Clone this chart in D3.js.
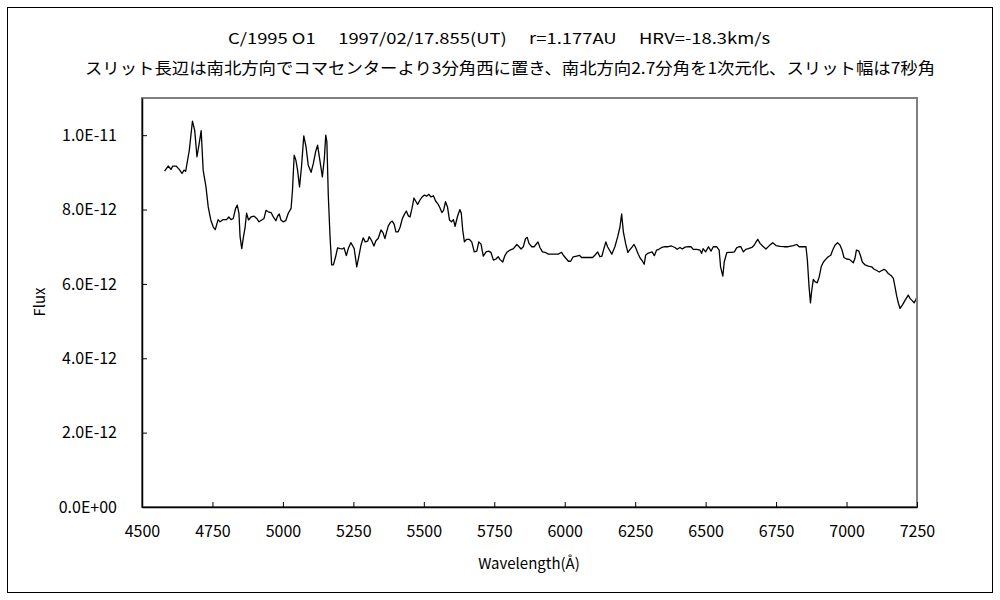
<!DOCTYPE html>
<html>
<head>
<meta charset="utf-8">
<script src="https://cdn.jsdelivr.net/npm/d3@7"></script>
<style>
  body { margin: 0; background: #fff; }
  text { font-family: "Noto Sans CJK JP", "DejaVu Sans", sans-serif; fill: #000; }
</style>
</head>
<body>
<div id="chart"></div>
<script>
// Spectrum data: wavelength (Å) and flux (units of 1e-12)
const wavelength = [
  4580, 4593, 4603, 4609, 4621, 4632, 4642, 4649, 4655, 4668, 4679, 4687, 4695, 4703, 4710, 4717,
  4727, 4735, 4744, 4753, 4760, 4770, 4777, 4788, 4800, 4808, 4816, 4824, 4832, 4838, 4844, 4848,
  4854, 4859, 4866, 4871, 4878, 4887, 4898, 4907, 4915, 4925, 4933, 4940, 4948, 4958, 4966, 4975,
  4981, 4987, 4993, 5001, 5010, 5019, 5029, 5034, 5040, 5046, 5052, 5059, 5066, 5074, 5082, 5090,
  5100, 5108, 5116, 5123, 5132, 5140, 5147, 5152, 5156, 5161, 5167, 5173, 5179, 5187, 5194, 5203,
  5211, 5217, 5225, 5232, 5241, 5248, 5253, 5262, 5268, 5277, 5285, 5292, 5301, 5306, 5315, 5323,
  5330, 5338, 5348, 5355, 5362, 5368, 5374, 5381, 5388, 5395, 5401, 5409, 5416, 5424, 5431, 5438,
  5445, 5451, 5458, 5465, 5471, 5478, 5486, 5494, 5502, 5510, 5518, 5525, 5534, 5542, 5551, 5557,
  5564, 5570, 5577, 5584, 5591, 5598, 5605, 5611, 5619, 5628, 5633, 5638, 5644, 5652, 5661, 5670,
  5679, 5688, 5695, 5703, 5711, 5721, 5730, 5738, 5747, 5756, 5764, 5770, 5780, 5788, 5796, 5806,
  5818, 5830, 5838, 5845, 5853, 5861, 5867, 5873, 5883, 5892, 5898, 5905, 5912, 5921, 5930, 5942,
  5960, 5977, 5989, 5995, 6004, 6013, 6021, 6030, 6042, 6052, 6060, 6072, 6087, 6099, 6107, 6117,
  6125, 6132, 6139, 6146, 6152, 6158, 6167, 6178, 6188, 6196, 6202, 6208, 6216, 6224, 6232, 6240,
  6246, 6253, 6261, 6268, 6276, 6282, 6287, 6294, 6302, 6310, 6318, 6326, 6334, 6344, 6356, 6367,
  6379, 6391, 6399, 6409, 6417, 6427, 6438, 6448, 6456, 6468, 6480, 6486, 6491, 6500, 6510, 6519,
  6527, 6539, 6548, 6553, 6561, 6566, 6575, 6583, 6592, 6602, 6610, 6618, 6625, 6634, 6642, 6652,
  6664, 6672, 6679, 6685, 6693, 6702, 6714, 6726, 6738, 6750, 6764, 6778, 6793, 6811, 6823, 6832,
  6844, 6856, 6861, 6867, 6872, 6876, 6882, 6888, 6896, 6903, 6910, 6918, 6926, 6935, 6944, 6951,
  6959, 6968, 6977, 6984, 6991, 7000, 7010, 7016, 7024, 7030, 7035, 7043, 7049, 7056, 7066, 7077,
  7089, 7097, 7107, 7116, 7125, 7133, 7140, 7148, 7160, 7166, 7172, 7178, 7184, 7190, 7198, 7207,
  7219, 7225, 7233, 7240, 7246, 7250
];
const flux = [
  9.03, 9.17, 9.08, 9.17, 9.17, 9.08, 8.97, 9.06, 9.03, 9.60, 10.38, 10.13, 9.42, 9.78, 10.12, 9.06,
  8.61, 8.07, 7.72, 7.53, 7.46, 7.73, 7.67, 7.73, 7.73, 7.80, 7.73, 7.76, 8.03, 8.12, 7.90, 7.27,
  6.95, 7.22, 7.53, 7.90, 7.72, 7.80, 7.82, 7.76, 7.67, 7.72, 7.76, 7.98, 7.94, 7.92, 7.80, 7.70,
  7.82, 7.88, 7.72, 7.67, 7.70, 7.90, 8.03, 8.52, 9.46, 9.33, 9.06, 8.61, 9.15, 9.98, 9.69, 9.19,
  9.00, 9.24, 9.55, 9.73, 9.28, 8.88, 9.37, 10.00, 9.82, 8.39, 7.31, 6.51, 6.51, 6.73, 6.97, 6.95,
  6.94, 6.97, 6.76, 6.95, 7.11, 7.02, 6.95, 6.46, 6.68, 7.04, 7.24, 7.13, 7.15, 7.27, 7.16, 7.02,
  7.16, 7.22, 7.45, 7.38, 7.22, 7.40, 7.56, 7.65, 7.69, 7.60, 7.40, 7.40, 7.53, 7.76, 7.87, 7.96,
  7.83, 7.80, 8.03, 8.31, 8.23, 8.14, 8.25, 8.34, 8.39, 8.36, 8.41, 8.34, 8.37, 8.23, 8.14, 8.05,
  7.92, 7.98, 8.21, 8.07, 7.72, 7.67, 7.73, 7.55, 7.80, 8.00, 7.90, 7.45, 7.13, 7.20, 7.20, 7.13,
  6.86, 6.88, 7.13, 7.07, 6.75, 6.86, 6.88, 6.85, 6.64, 6.67, 6.73, 6.66, 6.59, 6.77, 6.86, 6.91,
  6.95, 7.06, 7.00, 6.94, 7.00, 7.22, 7.25, 7.09, 7.00, 7.00, 7.06, 7.13, 6.98, 6.86, 6.85, 6.80,
  6.80, 6.80, 6.85, 6.77, 6.69, 6.61, 6.61, 6.73, 6.75, 6.77, 6.71, 6.71, 6.71, 6.71, 6.77, 6.86,
  6.73, 6.75, 6.95, 7.13, 7.00, 6.92, 6.80, 7.00, 7.27, 7.53, 7.88, 7.40, 7.09, 6.85, 6.93, 7.00,
  7.06, 6.95, 6.80, 6.69, 6.61, 6.53, 6.77, 6.82, 6.84, 6.86, 6.76, 6.91, 6.93, 6.98, 7.00, 7.00,
  7.02, 6.98, 6.93, 6.98, 6.94, 6.99, 7.00, 7.00, 6.93, 6.93, 6.91, 6.82, 6.95, 6.86, 7.00, 6.88,
  7.00, 7.00, 6.91, 6.46, 6.21, 6.59, 6.84, 6.85, 6.85, 6.86, 6.97, 7.00, 7.00, 6.86, 6.93, 6.95,
  6.98, 7.04, 7.13, 7.20, 7.09, 7.02, 6.94, 7.03, 7.11, 7.03, 7.01, 7.00, 7.00, 7.03, 7.06, 7.00,
  7.00, 7.00, 6.64, 5.92, 5.49, 5.79, 6.12, 6.06, 6.03, 6.19, 6.46, 6.59, 6.66, 6.73, 6.77, 6.91,
  7.04, 7.11, 7.04, 6.91, 6.71, 6.67, 6.66, 6.62, 6.57, 6.69, 6.91, 6.89, 6.77, 6.59, 6.51, 6.48,
  6.46, 6.40, 6.36, 6.32, 6.36, 6.39, 6.36, 6.28, 6.21, 6.15, 5.92, 5.67, 5.48, 5.34, 5.43, 5.55,
  5.70, 5.61, 5.55, 5.49, 5.58, 5.65
];
const xTicks = [4500, 4750, 5000, 5250, 5500, 5750, 6000, 6250, 6500, 6750, 7000, 7250];
const yTicks = [0, 2e-12, 4e-12, 6e-12, 8e-12, 1e-11];
const yTickLabels = ['0.0E+00', '2.0E-12', '4.0E-12', '6.0E-12', '8.0E-12', '1.0E-11'];
const title1 = 'C/1995 O1\u3000 1997/02/17.855(UT)\u3000 r=1.177AU\u3000 HRV=-18.3km/s';
const title2 = 'スリット長辺は南北方向でコマセンターより3分角西に置き、南北方向2.7分角を1次元化、スリット幅は7秒角';

const data = wavelength.map((w, i) => ({ w: w, f: flux[i] * 1e-12 }));

// Layout
let W = 1000, H = 600;
let plot = { left: 142, top: 98, right: 917, bottom: 507 };

let svg = d3.select('#chart').append('svg')
  .attr('width', W)
  .attr('height', H);

// outer chart border
svg.append('rect')
  .attr('x', 7.5).attr('y', 7.5)
  .attr('width', 985).attr('height', 585)
  .attr('fill', '#fff')
  .attr('stroke', '#000')
  .attr('stroke-width', 1);

// Scales
let x = d3.scaleLinear().domain([4500, 7250]).range([plot.left, plot.right]);
let y = d3.scaleLinear().domain([0, 1.1e-11]).range([plot.bottom, plot.top]);

// Titles
svg.append('text')
  .attr('x', 499).attr('y', 44)
  .attr('text-anchor', 'middle')
  .attr('font-size', 15)
  .attr('textLength', 542)
  .attr('lengthAdjust', 'spacingAndGlyphs')
  .text(title1);

svg.append('text')
  .attr('x', 510).attr('y', 74)
  .attr('text-anchor', 'middle')
  .attr('font-size', 16)
  .attr('textLength', 850)
  .attr('lengthAdjust', 'spacingAndGlyphs')
  .text(title2);

// Spectrum line
let line = d3.line()
  .x(d => x(d.w))
  .y(d => y(d.f));

svg.append('path')
  .datum(data)
  .attr('fill', 'none')
  .attr('stroke', '#000')
  .attr('stroke-width', 1.3)
  .attr('stroke-linejoin', 'round')
  .attr('d', line);

// Plot area frame
svg.append('rect')
  .attr('x', plot.left).attr('y', plot.top)
  .attr('width', plot.right - plot.left)
  .attr('height', plot.bottom - plot.top)
  .attr('fill', 'none')
  .attr('stroke', '#808080')
  .attr('stroke-width', 2);

// X axis, ticks inside
let xAxis = svg.append('g')
  .attr('transform', 'translate(0,' + plot.bottom + ')')
  .call(d3.axisBottom(x).tickValues(xTicks).tickFormat(d3.format('d'))
    .tickSizeInner(-5).tickSizeOuter(0).tickPadding(19));
xAxis.select('.domain').attr('stroke', '#000').attr('stroke-width', 1.5);
xAxis.selectAll('.tick line').attr('stroke', '#000');
xAxis.selectAll('text')
  .attr('font-size', 16)
  .attr('font-family', '"Noto Sans CJK JP", sans-serif');

// Y axis, ticks inside
let yAxis = svg.append('g')
  .attr('transform', 'translate(' + plot.left + ',0)')
  .call(d3.axisLeft(y).tickValues(yTicks)
    .tickFormat((d, i) => yTickLabels[i])
    .tickSizeInner(-5).tickSizeOuter(0).tickPadding(25));
yAxis.select('.domain').attr('stroke', '#000').attr('stroke-width', 1.5);
yAxis.selectAll('.tick line').attr('stroke', '#000');
yAxis.selectAll('text')
  .attr('font-size', 16)
  .attr('font-family', '"Noto Sans CJK JP", sans-serif');

// Axis titles
svg.append('text')
  .attr('x', 529).attr('y', 569)
  .attr('text-anchor', 'middle')
  .attr('font-size', 15)
  .text('Wavelength(Å)');

svg.append('text')
  .attr('transform', 'translate(45,302) rotate(-90)')
  .attr('text-anchor', 'middle')
  .attr('font-size', 15)
  .text('Flux');
</script>
</body>
</html>
